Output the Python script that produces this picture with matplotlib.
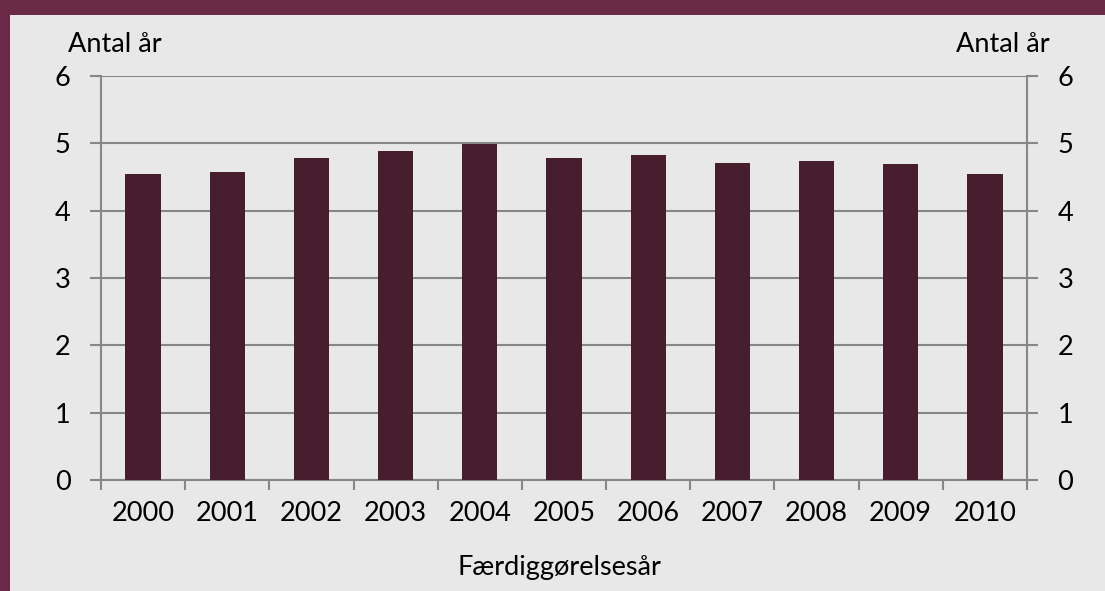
import matplotlib.pyplot as plt
from matplotlib.patches import Rectangle
import numpy as np

years = ["2000", "2001", "2002", "2003", "2004", "2005", "2006", "2007", "2008", "2009", "2010"]
antal_aar = [4.54, 4.58, 4.78, 4.89, 4.99, 4.78, 4.82, 4.71, 4.74, 4.69, 4.55]
yticks = [0, 1, 2, 3, 4, 5, 6]

bg = "#e8e8e8"
bar_color = "#471e2e"
frame_color = "#6b2a48"
grid_color = "#878787"
fsize = 19.5

plt.rcParams['font.family'] = ['Lato', 'DejaVu Sans']

fig = plt.figure(figsize=(11.05, 5.91), dpi=100)
fig.patch.set_facecolor(bg)

# maroon frame: band along the top and a strip down the left
fig.patches.append(Rectangle((0, 1 - 15 / 591), 1, 15 / 591, transform=fig.transFigure,
                             facecolor=frame_color, edgecolor='none', zorder=0))
fig.patches.append(Rectangle((0, 0), 10 / 1105, 1, transform=fig.transFigure,
                             facecolor=frame_color, edgecolor='none', zorder=0))

ax = fig.add_axes([101 / 1105, 1 - 480 / 591, (1027 - 101) / 1105, (480 - 76) / 591])
ax.set_facecolor(bg)

x = np.arange(len(years))
ax.bar(x, antal_aar, width=0.42, color=bar_color, zorder=3)

ax.set_xlim(-0.5, len(years) - 0.5)
ax.set_ylim(0, 6)
ax.set_yticks(yticks)
ax.set_yticklabels([str(v) for v in yticks])
ax.yaxis.grid(True, color=grid_color, linewidth=1.5, zorder=0)

ax.set_xticks(x)
ax.set_xticklabels(years)
ax.set_xticks(np.arange(len(years) + 1) - 0.5, minor=True)
ax.tick_params(axis='x', which='major', length=0, pad=15, labelsize=fsize)
ax.tick_params(axis='x', which='minor', length=7, width=1.5, color=grid_color)
ax.tick_params(axis='y', which='major', length=8, width=1.5, color=grid_color,
               left=True, right=True, labelleft=True, labelright=True, pad=14, labelsize=fsize)

for side in ['left', 'right', 'bottom']:
    ax.spines[side].set_color(grid_color)
    ax.spines[side].set_linewidth(1.5)
ax.spines['top'].set_visible(False)

fig.text(68 / 1105, 1 - 45 / 591, "Antal år", fontsize=fsize, ha='left', va='center')
fig.text(1050 / 1105, 1 - 45 / 591, "Antal år", fontsize=fsize, ha='right', va='center')
fig.text(559 / 1105, 1 - 568 / 591, "Færdiggørelsesår", fontsize=fsize, ha='center', va='center')

fig.savefig("out.png", dpi=100, facecolor=bg)
